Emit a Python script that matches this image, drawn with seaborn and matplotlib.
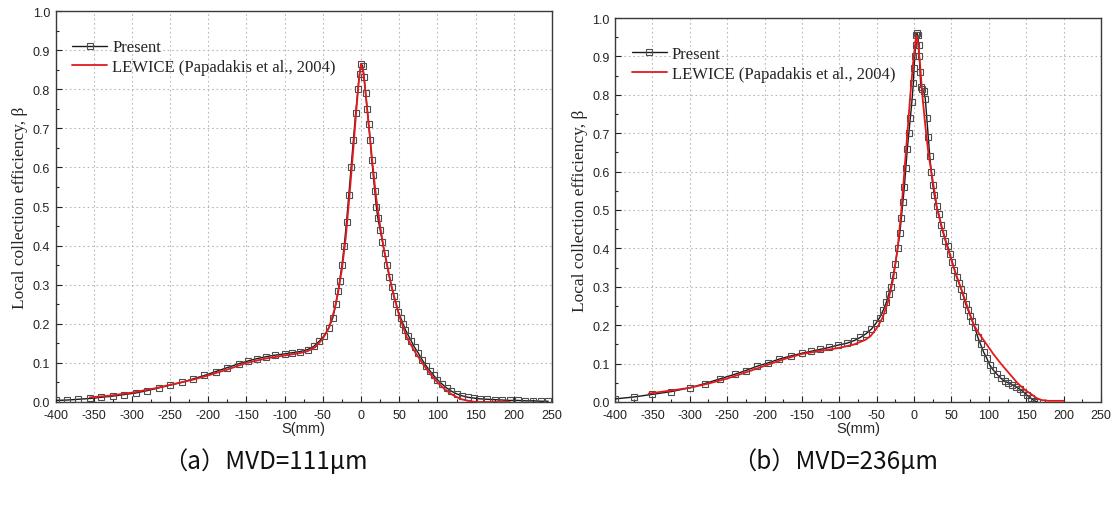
import numpy as np
import pandas as pd
import matplotlib
matplotlib.use("Agg")
import matplotlib.pyplot as plt
from matplotlib.ticker import MultipleLocator, FormatStrFormatter
import seaborn as sns

# ---------------- data ----------------
# Panel (a) MVD = 111 um
a_present_s = [-400, -385, -370, -355, -340, -325, -310, -295, -280, -265, -250, -235, -220, -205,
               -190, -175, -160, -148, -136, -124, -112, -100, -90, -80, -70, -62, -55, -48, -42,
               -37, -33, -30, -28, -25, -22, -19, -16, -13, -10, -7, -4, -2, 0, 2, 4, 6, 8, 10,
               12, 14, 16, 18, 20, 22, 25, 28, 31, 34, 37, 40, 43, 46, 49, 52, 55, 58, 62, 66,
               70, 75, 80, 85, 90, 95, 100, 106, 112, 118, 125, 132, 140, 148, 156, 165, 175,
               185, 195, 205, 215, 225, 235, 245]
a_present_b = [0.004, 0.005, 0.007, 0.009, 0.012, 0.015, 0.019, 0.023, 0.029, 0.036, 0.043, 0.050,
               0.059, 0.068, 0.078, 0.088, 0.098, 0.105, 0.111, 0.116, 0.120, 0.123, 0.126, 0.129,
               0.134, 0.142, 0.155, 0.170, 0.190, 0.215, 0.250, 0.285, 0.310, 0.350, 0.400, 0.460,
               0.530, 0.600, 0.670, 0.740, 0.800, 0.840, 0.865, 0.860, 0.830, 0.790, 0.750, 0.710,
               0.670, 0.620, 0.580, 0.540, 0.500, 0.470, 0.440, 0.410, 0.380, 0.350, 0.320, 0.295,
               0.270, 0.250, 0.230, 0.215, 0.200, 0.185, 0.170, 0.155, 0.140, 0.125, 0.108, 0.093,
               0.080, 0.068, 0.057, 0.046, 0.036, 0.028, 0.021, 0.016, 0.012, 0.010, 0.008, 0.007,
               0.006, 0.005, 0.004, 0.004, 0.003, 0.003, 0.002, 0.002]
a_lewice_s = [-355, -330, -300, -270, -250, -220, -200, -175, -150, -125, -100, -80, -70, -60, -50,
              -42, -35, -30, -25, -20, -15, -10, -6, -3, 0, 3, 6, 10, 15, 20, 25, 30, 40, 50, 60,
              70, 80, 90, 100, 110, 120, 130, 140, 150, 175, 195]
a_lewice_b = [0.012, 0.016, 0.024, 0.035, 0.044, 0.057, 0.068, 0.083, 0.100, 0.111, 0.119, 0.125,
              0.130, 0.140, 0.162, 0.190, 0.235, 0.280, 0.340, 0.420, 0.530, 0.650, 0.750, 0.820,
              0.865, 0.845, 0.790, 0.710, 0.610, 0.520, 0.450, 0.390, 0.295, 0.220, 0.165, 0.130,
              0.100, 0.073, 0.050, 0.032, 0.018, 0.008, 0.003, 0.000, 0.000, 0.000]

# Panel (b) MVD = 236 um
b_present_s = [-400, -375, -350, -325, -300, -280, -260, -240, -225, -210, -195, -180, -165, -150,
               -138, -126, -114, -102, -90, -80, -72, -64, -57, -51, -46, -41, -37, -34, -31, -28,
               -25, -22, -19, -17, -15, -13, -11, -9, -7, -5, -3, -1, 0, 1, 2, 3, 4, 5, 6, 7, 8,
               9, 11, 13, 15, 17, 19, 21, 23, 25, 27, 30, 33, 36, 39, 42, 45, 48, 51, 54, 57, 60,
               63, 66, 69, 72, 75, 78, 81, 85, 89, 93, 97, 101, 106, 111, 116, 121, 126, 131, 136,
               141, 146, 151, 156, 161, 165]
b_present_b = [0.008, 0.013, 0.020, 0.027, 0.037, 0.048, 0.060, 0.072, 0.082, 0.093, 0.102, 0.112,
               0.120, 0.127, 0.132, 0.137, 0.142, 0.148, 0.153, 0.160, 0.168, 0.178, 0.190, 0.205,
               0.220, 0.240, 0.260, 0.280, 0.300, 0.330, 0.360, 0.400, 0.440, 0.480, 0.520, 0.560,
               0.610, 0.660, 0.700, 0.740, 0.780, 0.830, 0.870, 0.900, 0.930, 0.955, 0.960, 0.955,
               0.930, 0.900, 0.860, 0.820, 0.815, 0.810, 0.790, 0.740, 0.690, 0.640, 0.600, 0.565,
               0.540, 0.510, 0.490, 0.460, 0.440, 0.420, 0.405, 0.385, 0.365, 0.345, 0.325, 0.310,
               0.295, 0.275, 0.255, 0.240, 0.225, 0.210, 0.195, 0.170, 0.150, 0.130, 0.115, 0.097,
               0.083, 0.072, 0.062, 0.054, 0.050, 0.045, 0.040, 0.034, 0.027, 0.018, 0.010, 0.003,
               0.000]
b_lewice_s = [-355, -325, -300, -275, -250, -225, -200, -175, -150, -125, -100, -80, -65, -58, -50,
              -42, -35, -28, -22, -17, -13, -9, -5, -1, 2, 3, 5, 8, 11, 15, 19, 23, 28, 31, 38,
              45, 53, 62, 71, 80, 88, 97, 106, 116, 127, 138, 148, 157, 164, 171, 180, 200]
b_lewice_b = [0.022, 0.030, 0.037, 0.048, 0.061, 0.077, 0.094, 0.111, 0.125, 0.133, 0.141, 0.150,
              0.162, 0.172, 0.192, 0.220, 0.260, 0.320, 0.400, 0.500, 0.600, 0.700, 0.800, 0.890,
              0.940, 0.955, 0.940, 0.880, 0.800, 0.720, 0.650, 0.600, 0.540, 0.500, 0.450, 0.400,
              0.350, 0.300, 0.250, 0.200, 0.175, 0.150, 0.125, 0.100, 0.075, 0.050, 0.032, 0.020,
              0.010, 0.005, 0.003, 0.003]

series_labels = ["Present", "LEWICE (Papadakis et al., 2004)"]
captions = ["（a）MVD=111μm", "（b）MVD=236μm"]
x_label = "S(mm)"
y_label = "Local collection efficiency, β"

# ---------------- figure ----------------
sns.set_style("ticks")
plt.rcParams["font.family"] = ["Liberation Sans", "DejaVu Sans"]
plt.rcParams["axes.unicode_minus"] = False

fig = plt.figure(figsize=(11.16, 5.06), dpi=100)
axes_pos = [[55.5 / 1116, 103 / 506, 496.5 / 1116, 391 / 506],
            [615 / 1116, 103 / 506, 486 / 1116, 384 / 506]]

panels = [(a_present_s, a_present_b, a_lewice_s, a_lewice_b),
          (b_present_s, b_present_b, b_lewice_s, b_lewice_b)]

caption_x = [265 / 1116, 835 / 1116]

for i, (ps, pb, ls, lb) in enumerate(panels):
    ax = fig.add_axes(axes_pos[i])
    dfp = pd.DataFrame({"s": ps, "b": pb})
    dfl = pd.DataFrame({"s": ls, "b": lb})
    sns.lineplot(data=dfp, x="s", y="b", ax=ax, sort=False, estimator=None,
                 color="#1a1a1a", linewidth=1.0, marker="s", markersize=4.6,
                 markerfacecolor="none", markeredgecolor="#4d4d4d", markeredgewidth=0.8,
                 label=series_labels[0], zorder=3)
    sns.lineplot(data=dfl, x="s", y="b", ax=ax, sort=False, estimator=None,
                 color="#e31a1c", linewidth=1.3, label=series_labels[1], zorder=4)

    ax.set_xlim(-400, 250)
    ax.set_ylim(0, 1.0)
    ax.xaxis.set_major_locator(MultipleLocator(50))
    ax.xaxis.set_minor_locator(MultipleLocator(25))
    ax.yaxis.set_major_locator(MultipleLocator(0.1))
    ax.yaxis.set_minor_locator(MultipleLocator(0.05))
    ax.yaxis.set_major_formatter(FormatStrFormatter("%.1f"))
    ax.tick_params(axis="both", which="both", direction="in", top=False, right=False,
                   labelsize=9, colors="#222222")
    ax.tick_params(axis="x", which="major", pad=5)
    ax.tick_params(axis="y", which="major", pad=4)
    ax.tick_params(axis="both", which="major", length=4, width=0.8)
    ax.tick_params(axis="both", which="minor", length=2.5, width=0.8)
    ax.grid(True, which="major", linestyle=(0, (1.5, 2.5)), color="#b8b8b8", linewidth=0.8)
    for sp in ax.spines.values():
        sp.set_visible(True)
        sp.set_color("#3a3a3a")
        sp.set_linewidth(1.0)

    ax.set_xlabel(x_label, fontsize=10.5, family=["Liberation Sans", "DejaVu Sans"],
                  labelpad=0)
    ax.set_ylabel(y_label, fontsize=12.5, family=["Liberation Serif", "DejaVu Serif"],
                  labelpad=3)

    ax.legend(loc="upper left", bbox_to_anchor=(0.0, 0.97), frameon=False,
              prop={"family": ["Liberation Serif", "DejaVu Serif"], "size": 12},
              handlelength=2.1, handletextpad=0.3, labelspacing=0.2, borderaxespad=0.6)

    fig.text(caption_x[i], 44 / 506, captions[i], ha="center", va="center",
             fontsize=17.5, family=["Noto Sans CJK SC", "DejaVu Sans"],
             color="#111111")

fig.savefig("out.png", dpi=100)
